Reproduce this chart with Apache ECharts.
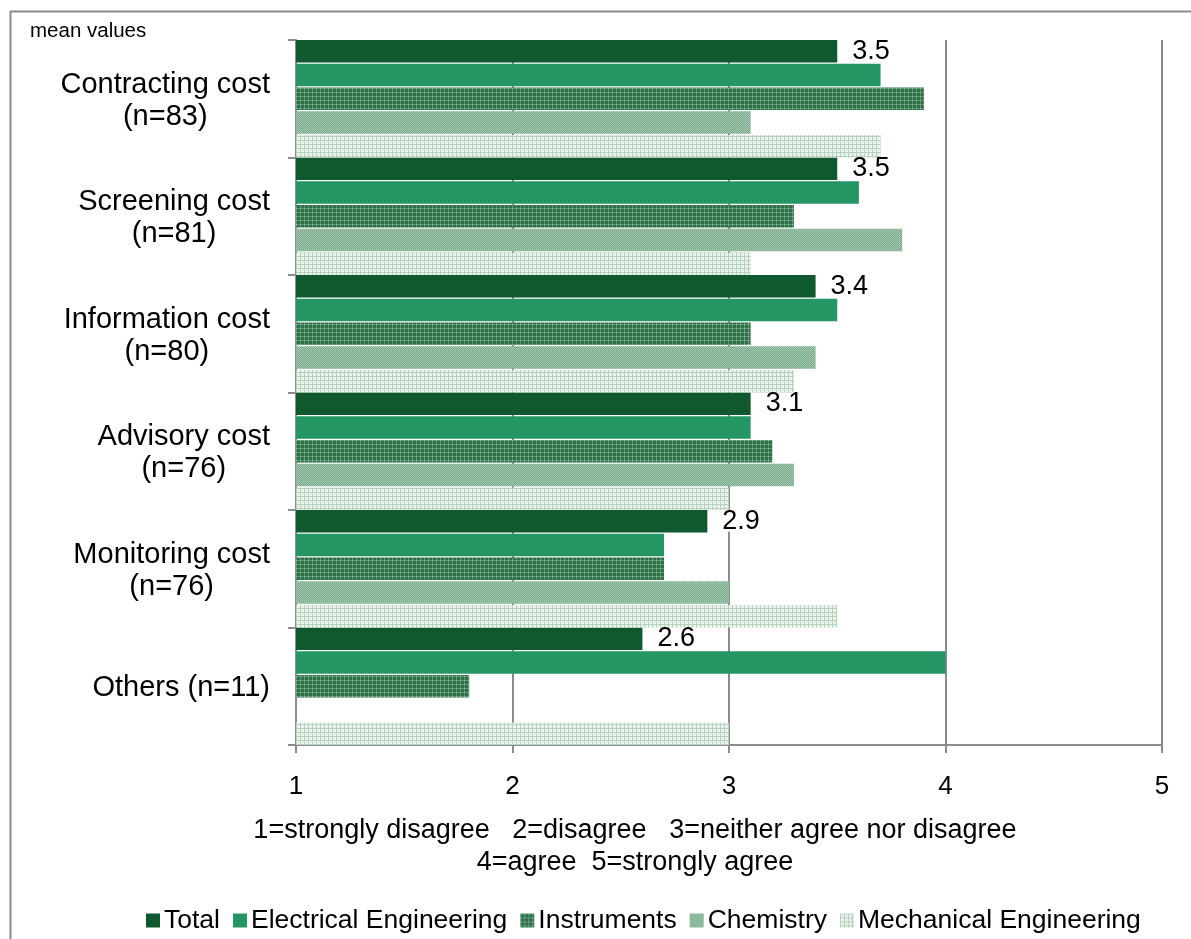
<!DOCTYPE html>
<html>
<head>
<meta charset="utf-8">
<script src="https://cdn.jsdelivr.net/npm/echarts@6/dist/echarts.min.js"></script>
<style>
html,body{margin:0;padding:0;background:#fff;}
#chart{width:1191px;height:939px;}
</style>
</head>
<body>
<div id="chart"></div>
<script>
const categories = ['Contracting cost\n(n=83)', 'Screening cost\n(n=81)', 'Information cost\n(n=80)', 'Advisory cost\n(n=76)', 'Monitoring cost\n(n=76)', 'Others (n=11)'];
const seriesNames = ['Total', 'Electrical Engineering', 'Instruments', 'Chemistry', 'Mechanical Engineering'];
const totalValues = [3.5, 3.5, 3.4, 3.1, 2.9, 2.6];
const electricalValues = [3.7, 3.6, 3.5, 3.1, 2.7, 4.0];
const instrumentsValues = [3.9, 3.3, 3.1, 3.2, 2.7, 1.8];
const chemistryValues = [3.1, 3.8, 3.4, 3.3, 3.0, null];
const mechanicalValues = [3.7, 3.1, 3.3, 3.0, 3.5, 3.0];
const xTicks = [1, 2, 3, 4, 5];
const axisNote = ['1=strongly disagree   2=disagree   3=neither agree nor disagree', '4=agree  5=strongly agree'];

const FONT = '"Liberation Sans", Arial, sans-serif';

function makePattern(size, painter) {
  const c = document.createElement('canvas');
  c.width = size; c.height = size;
  const ctx = c.getContext('2d');
  painter(ctx);
  return { image: c, repeat: 'repeat' };
}
const instrumentsPattern = makePattern(4, ctx => {
  ctx.fillStyle = '#2f7048'; ctx.fillRect(0, 0, 4, 4);
  ctx.fillStyle = '#5a9770'; ctx.fillRect(0, 0, 4, 1); ctx.fillRect(0, 0, 1, 4);
  ctx.fillStyle = '#8fbb9f'; ctx.fillRect(0, 0, 1, 1);
});
const chemistryPattern = makePattern(2, ctx => {
  ctx.fillStyle = '#7fae90'; ctx.fillRect(0, 0, 2, 2);
  ctx.fillStyle = '#9cc5aa'; ctx.fillRect(0, 0, 1, 1); ctx.fillRect(1, 1, 1, 1);
});
const mechanicalPattern = makePattern(4, ctx => {
  ctx.fillStyle = '#e9f2eb'; ctx.fillRect(0, 0, 4, 4);
  ctx.fillStyle = '#b6d1be'; ctx.fillRect(0, 0, 4, 1); ctx.fillRect(0, 0, 1, 4);
});

const colors = ['#10592e', '#239664', instrumentsPattern, chemistryPattern, mechanicalPattern];
const dataSets = [totalValues, electricalValues, instrumentsValues, chemistryValues, mechanicalValues];

const chart = echarts.init(document.getElementById('chart'), null, { renderer: 'canvas' });

const series = seriesNames.map((name, i) => ({
  name: name,
  type: 'bar',
  data: dataSets[i],
  clip: true,
  barGap: '6%',
  barCategoryGap: '0%',
  itemStyle: { color: colors[i] },
  label: i === 0 ? {
    show: true,
    position: 'right',
    distance: 7,
    color: '#000',
    fontSize: 27,
    lineHeight: 21,
    fontFamily: FONT,
    backgroundColor: '#fff',
    padding: [0, 8],
    formatter: p => p.value.toFixed(1)
  } : { show: false }
}));

chart.setOption({
  animation: false,
  backgroundColor: '#fff',
  grid: { left: 296, right: 29, top: 40, bottom: 194, containLabel: false },
  legend: {
    left: 141,
    top: 902,
    itemWidth: 14,
    itemHeight: 14,
    itemGap: 13,
    icon: 'rect',
    textStyle: { fontSize: 26.5, fontFamily: FONT, color: '#000', padding: [0, 0, 0, -1] },
    data: seriesNames
  },
  xAxis: {
    type: 'value',
    min: xTicks[0],
    max: xTicks[xTicks.length - 1],
    interval: 1,
    axisLine: { show: true, lineStyle: { color: '#8c8c8c', width: 2 } },
    axisTick: { show: true, length: 8, lineStyle: { color: '#8c8c8c', width: 2 } },
    splitLine: { show: true, lineStyle: { color: '#8c8c8c', width: 2 } },
    axisLabel: { fontSize: 26, fontFamily: FONT, color: '#000', margin: 29 }
  },
  yAxis: {
    type: 'category',
    inverse: true,
    data: categories,
    axisLine: { show: true, lineStyle: { color: '#8c8c8c', width: 2 } },
    axisTick: { show: true, length: 8, alignWithLabel: false, lineStyle: { color: '#8c8c8c', width: 2 } },
    axisLabel: {
      align: 'right',
      margin: 26,
      padding: [4, 0, 0, 0],
      formatter: v => v.split('\n').map(l => '{c|' + l + '}').join('\n'),
      rich: { c: { fontSize: 29, lineHeight: 32, fontFamily: FONT, color: '#000', align: 'center' } }
    }
  },
  graphic: [
    { type: 'rect', left: 8, top: 9, shape: { width: 1300, height: 1000 }, style: { fill: 'none', stroke: '#8c8c8c', lineWidth: 2 }, silent: true, z: -1 },
    { type: 'text', left: 30, top: 21, style: { text: 'mean values', fontSize: 20.5, fontFamily: FONT, fill: '#000' } },
    { type: 'text', x: 635, y: 831, style: { text: axisNote[0], fontSize: 27, fontFamily: FONT, fill: '#000', align: 'center', verticalAlign: 'middle' } },
    { type: 'text', x: 635, y: 863, style: { text: axisNote[1], fontSize: 27, fontFamily: FONT, fill: '#000', align: 'center', verticalAlign: 'middle' } }
  ],
  series: series
});
</script>
</body>
</html>
